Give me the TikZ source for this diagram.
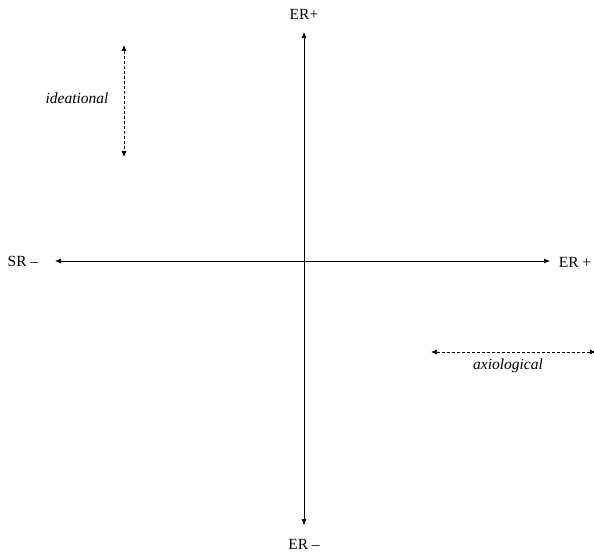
\documentclass[tikz,border=0pt]{standalone}
\usepackage{fontspec}
\setmainfont{Liberation Serif}
\usetikzlibrary{arrows.meta}
\begin{document}
\begin{tikzpicture}[x=1pt,y=-1pt,
  axis/.style={{Latex[length=6pt,width=5pt]}-{Latex[length=6pt,width=5pt]}, line width=0.7pt},
  dim/.style={{Latex[length=6pt,width=5pt]}-{Latex[length=6pt,width=5pt]}, line width=0.7pt, densely dashed},
  lbl/.style={font=\fontsize{15.5}{18}\selectfont, inner sep=0pt},
  ilbl/.style={font=\fontsize{15.5}{18}\selectfont\itshape, inner sep=0pt}]
\useasboundingbox (0,0) rectangle (594,553);
\coordinate (vt) at (304,32);
\coordinate (vb) at (304,525);
\coordinate (hl) at (55,261);
\coordinate (hr) at (550,261);
\draw[axis] (vt) -- (vb);
\draw[axis] (hl) -- (hr);
\node[lbl] (ertop) at (304,14) {ER+};
\node[lbl] (sr) at (23,261) {SR –};
\node[lbl] (erright) at (575,262) {ER +};
\node[lbl] (erbot) at (304,544) {ER –};
\coordinate (it) at (124,45);
\coordinate (ib) at (124,157);
\draw[dim] (it) -- (ib);
\node[ilbl] (ideational) at (77,98) {ideational};
\coordinate (al) at (431,352);
\coordinate (ar) at (596,352);
\draw[dim] (al) -- (ar);
\node[ilbl] (axiological) at (508,366) {axiological};
\end{tikzpicture}
\end{document}
